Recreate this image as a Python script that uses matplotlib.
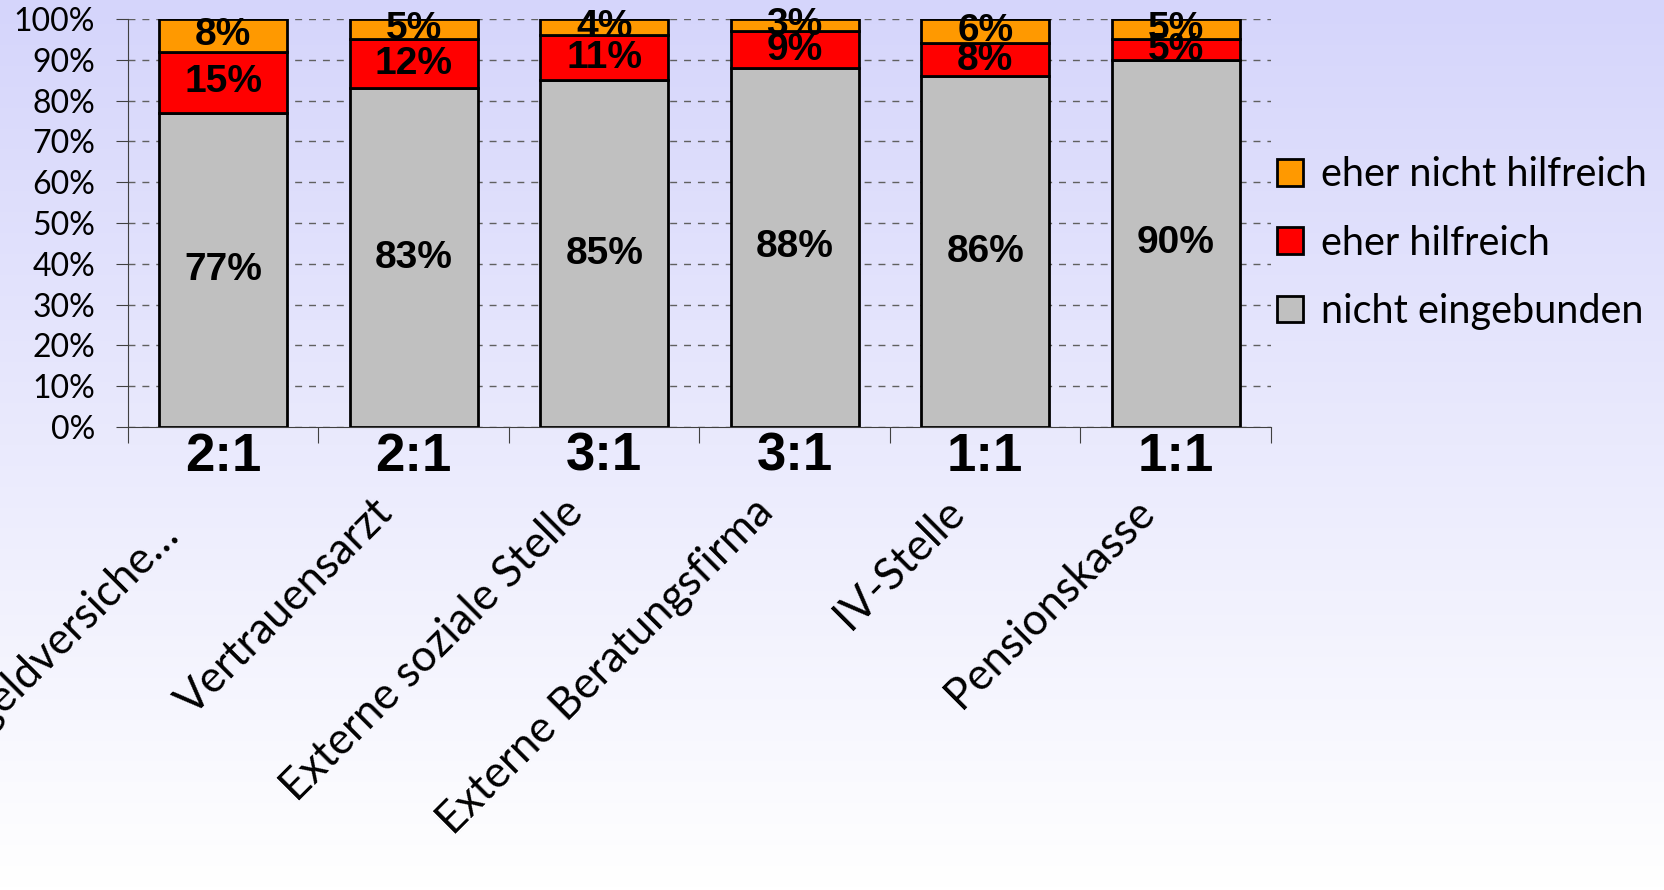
import numpy as np
import matplotlib.pyplot as plt
import matplotlib.transforms as mtransforms
from matplotlib.colors import LinearSegmentedColormap
from matplotlib.patches import Patch

categories = ["Krankentaggeldversiche…", "Vertrauensarzt", "Externe soziale Stelle",
              "Externe Beratungsfirma", "IV-Stelle", "Pensionskasse"]
ratios = ["2:1", "2:1", "3:1", "3:1", "1:1", "1:1"]
nicht_eingebunden = [77, 83, 85, 88, 86, 90]
eher_hilfreich = [15, 12, 11, 9, 8, 5]
eher_nicht_hilfreich = [8, 5, 4, 3, 6, 5]
yticks = list(range(0, 101, 10))

W, H = 1665, 890
fig = plt.figure(figsize=(W / 100, H / 100), dpi=100)

# lavender-to-white background
bg = fig.add_axes([0, 0, 1, 1], zorder=-10)
grad = np.linspace(0, 1, 256).reshape(-1, 1)
cmap = LinearSegmentedColormap.from_list('bg', ['#D5D5FB', '#FFFFFF'])
bg.imshow(grad, aspect='auto', cmap=cmap, extent=[0, 1, 0, 1])
bg.axis('off')

ax = fig.add_axes([128 / W, 1 - 427 / H, (1271 - 128) / W, 408 / H])
ax.set_facecolor('none')

x = np.arange(len(categories))
series = [
    (nicht_eingebunden, '#C0C0C0', 'nicht eingebunden'),
    (eher_hilfreich, '#FF0000', 'eher hilfreich'),
    (eher_nicht_hilfreich, '#FF9900', 'eher nicht hilfreich'),
]
bottom = np.zeros(len(categories))
handles = []
for vals, col, lab in series:
    ax.bar(x, vals, 0.67, bottom=bottom, color=col, edgecolor='black',
           linewidth=2, zorder=3)
    handles.append(Patch(facecolor=col, edgecolor='black', linewidth=2, label=lab))
    for xi, b, v in zip(x, bottom, vals):
        ax.text(xi, b + v / 2, f'{v}%', ha='center', va='center', fontsize=28,
                fontweight='bold', family='Liberation Sans', zorder=5)
    bottom += np.array(vals)

ax.set_xlim(-0.5, len(categories) - 0.5)
ax.set_ylim(0, 100)
ax.set_yticks(yticks)
ax.set_yticklabels([f'{v}%' for v in yticks], family='Lato', fontsize=23)
ax.set_xticks(np.arange(-0.5, len(categories), 1))
ax.set_xticklabels([])
ax.tick_params(axis='x', length=11.5, direction='out', color='#404040', width=0.8)
ax.tick_params(axis='y', length=8.6, direction='out', color='#404040', width=0.8, pad=15)
ax.yaxis.grid(True, linestyle=(0, (5, 5)), color='#606060', linewidth=1)
ax.set_axisbelow(True)
for s in ['top', 'right']:
    ax.spines[s].set_visible(False)
for s in ['left', 'bottom']:
    ax.spines[s].set_color('#404040')
    ax.spines[s].set_linewidth(0.8)

trans = mtransforms.blended_transform_factory(ax.transData, ax.transAxes)
for xi, r in zip(x, ratios):
    ax.text(xi, -0.073, r, transform=trans, ha='center', va='center',
            fontsize=38, fontweight='bold', family='Liberation Sans')

# rotated category names, anchored at the right end of the baseline;
# the truncated first name sits a little further down
for i, cat in enumerate(categories):
    dx, dy = (-24, -21) if i == 0 else (0, 0)
    t = mtransforms.offset_copy(trans, fig=fig, x=dx, y=dy, units='dots')
    ax.text(i - 0.099, -0.214, cat, transform=t, rotation=45,
            rotation_mode='anchor', ha='right', va='baseline', fontsize=31.5,
            family='Lato')

fig.legend(handles=handles[::-1], loc='center left',
           bbox_to_anchor=(1277 / W, 1 - 243 / H), frameon=False,
           prop={'family': 'Lato', 'size': 28.5}, borderpad=0, borderaxespad=0,
           handlelength=0.66, handleheight=0.66, handletextpad=0.45,
           labelspacing=0.79)

fig.savefig('out.png', dpi=100)
